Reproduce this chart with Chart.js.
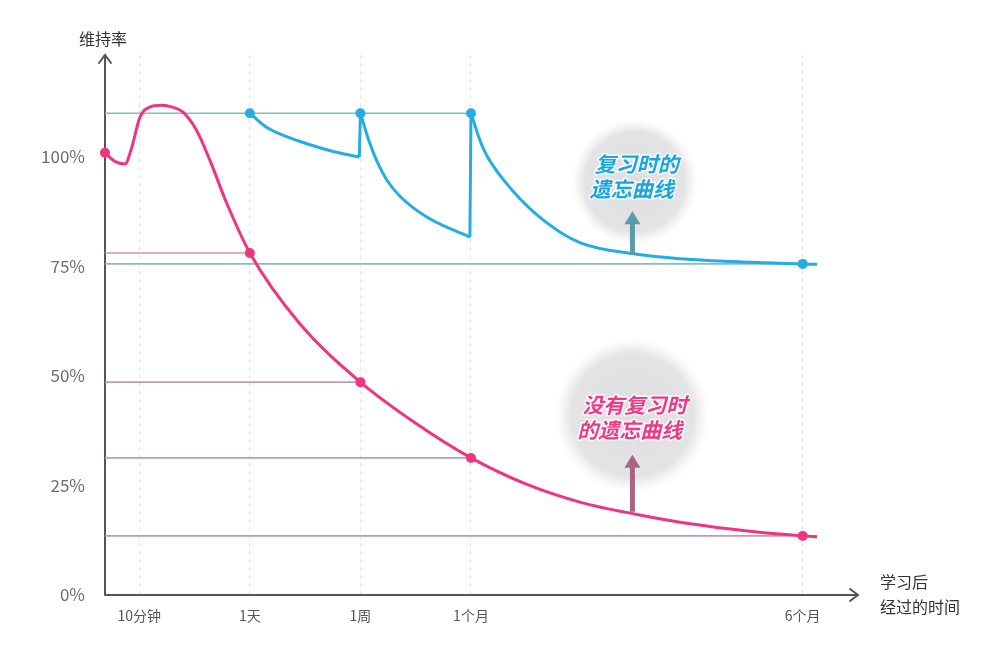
<!DOCTYPE html>
<html>
<head>
<meta charset="utf-8">
<script src="https://cdn.jsdelivr.net/npm/chart.js@4"></script>
<style>
    html, body { margin: 0; background: #fff; }
    #wrap { width: 1000px; height: 646px; }
</style>
</head>
<body>
<div id="wrap"><canvas id="forgetChart" width="1000" height="646"></canvas></div>
<script>
// time axis: 0 = 10分钟, 1 = 1天, 2 = 1周, 3 = 1个月, 6 = 6个月
const xTickValues = [0, 1, 2, 3, 6];
const xTickLabels = ['10分钟', '1天', '1周', '1个月', '6个月'];
const yTickValues = [0, 25, 50, 75, 100];

// 没有复习时的遗忘曲线
const noReviewCurve = [
    [-0.31, 101], [-0.22, 99], [-0.13, 98.4], [-0.07, 102], [0.005, 109],
    [0.095, 111.4], [0.2, 111.8], [0.3, 111.4], [0.394, 110.3], [0.52, 106], [0.638, 99.3],
    [0.79, 89.5], [1, 78.1], [1.45, 62], [2, 48.6], [2.5, 39.2], [3, 31.3],
    [3.5, 25.3], [4, 21.1], [4.5, 18.4], [5, 16.2], [5.5, 14.6], [6, 13.5], [6.13, 13.3]
];
const noReviewDots = [[-0.31, 101], [1, 78.1], [2, 48.6], [3, 31.3], [6, 13.5]];

// 复习时的遗忘曲线 (three decays, each reset to the top after a review)
const reviewDecay1 = [[1, 110], [1.15, 106.8], [1.45, 103.6], [1.72, 101.5], [1.99, 100]];
const reviewDecay2 = [[2, 110], [2.08, 103.5], [2.15, 99], [2.24, 94.7], [2.36, 91], [2.6, 86.3], [2.99, 81.7]];
const reviewDecay3 = [
    [3, 110], [3.08, 103.9], [3.15, 100], [3.37, 92.5], [3.69, 84.9], [3.99, 80.4],
    [4.5, 77.8], [4.89, 76.8], [5.52, 76], [6, 75.6], [6.13, 75.5]
];
const reviewJumps = [[[1.99, 100], [2, 110]], [[2.99, 81.7], [3, 110]]];
const reviewDots = [[1, 110], [2, 110], [3, 110], [6, 75.6]];

// reference lines: [level, ends at x]
const reviewLevels = [[110, 3], [75.6, 6.13]];
const noReviewLevels = [[78.1, 1], [48.6, 2], [31.3, 3], [13.5, 6.13]];

const X_MIN = -0.31;
const X_MAX = 6.5;
const Y_MAX = 123.3;

const PINK = '#ef3580';
const CYAN = '#22ade4';
const FONT = "'Noto Sans CJK SC', 'Noto Sans', sans-serif";

const toPoints = arr => arr.map(p => ({ x: p[0], y: p[1] }));

function curveSet(arr, color) {
    return {
        data: toPoints(arr), borderColor: color, borderWidth: 3, pointRadius: 0,
        cubicInterpolationMode: 'monotone', fill: false, order: 2
    };
}

function straightSet(arr, color, width, order) {
    return {
        data: toPoints(arr), borderColor: color, borderWidth: width, pointRadius: 0,
        tension: 0, fill: false, order: order
    };
}

function dotSet(arr, color) {
    return {
        data: toPoints(arr), showLine: false, pointRadius: 5, pointHoverRadius: 5,
        pointBackgroundColor: color, pointBorderWidth: 0, order: 1, clip: false
    };
}

const datasets = [];
reviewLevels.forEach(l => datasets.push(straightSet([[X_MIN, l[0]], [l[1], l[0]]], '#86bcc6', 1.6, 3)));
noReviewLevels.forEach(l => datasets.push(straightSet([[X_MIN, l[0]], [l[1], l[0]]], '#c79aa8', 1.6, 3)));
datasets.push(curveSet(noReviewCurve, PINK));
[reviewDecay1, reviewDecay2, reviewDecay3].forEach(d => datasets.push(curveSet(d, CYAN)));
reviewJumps.forEach(j => datasets.push(straightSet(j, CYAN, 3, 2)));
datasets.push(dotSet(noReviewDots, PINK));
datasets.push(dotSet(reviewDots, CYAN));

function pos(chart, x, y) {
    return [chart.scales.x.getPixelForValue(x), chart.scales.y.getPixelForValue(y)];
}

function drawBubble(ctx, cx, cy, r) {
    const g = ctx.createRadialGradient(cx, cy, 0, cx, cy, r);
    g.addColorStop(0, 'rgba(222,222,224,1)');
    g.addColorStop(0.8, 'rgba(228,228,230,1)');
    g.addColorStop(1, 'rgba(238,238,240,0)');
    ctx.fillStyle = g;
    ctx.beginPath();
    ctx.arc(cx, cy, r, 0, Math.PI * 2);
    ctx.fill();
}

function drawPointer(ctx, x, yTail, yTip, color) {
    ctx.strokeStyle = color;
    ctx.fillStyle = color;
    ctx.lineWidth = 5;
    ctx.beginPath();
    ctx.moveTo(x, yTail);
    ctx.lineTo(x, yTip + 10);
    ctx.stroke();
    ctx.beginPath();
    ctx.moveTo(x, yTip);
    ctx.lineTo(x - 8, yTip + 13);
    ctx.lineTo(x + 8, yTip + 13);
    ctx.closePath();
    ctx.fill();
}

function drawLabel(ctx, lines, cx, cy, color) {
    ctx.font = 'italic bold 21px ' + FONT;
    ctx.textAlign = 'center';
    ctx.textBaseline = 'middle';
    ctx.lineJoin = 'round';
    lines.forEach((t, i) => {
        const y = cy + (i - (lines.length - 1) / 2) * 25;
        const x = cx - i * 5;
        ctx.strokeStyle = 'rgba(255,255,255,0.85)';
        ctx.lineWidth = 3;
        ctx.strokeText(t, x, y);
        ctx.fillStyle = color;
        ctx.fillText(t, x, y);
    });
}

const decorations = {
    id: 'decorations',
    beforeDatasetsDraw(chart) {
        const ctx = chart.ctx;
        const a = chart.chartArea;
        ctx.save();
        let p = pos(chart, 4.48, 94.3);
        drawBubble(ctx, p[0], p[1], 63);
        p = pos(chart, 4.46, 41);
        drawBubble(ctx, p[0], p[1], 77);

        // axes with open arrow heads
        ctx.strokeStyle = '#555';
        ctx.lineWidth = 2;
        ctx.lineCap = 'round';
        ctx.beginPath();
        ctx.moveTo(a.left, a.bottom);
        ctx.lineTo(a.left, a.top);
        ctx.moveTo(a.left - 6, a.top + 8);
        ctx.lineTo(a.left, a.top);
        ctx.lineTo(a.left + 6, a.top + 8);
        ctx.moveTo(a.left, a.bottom);
        ctx.lineTo(a.right, a.bottom);
        ctx.moveTo(a.right - 8, a.bottom - 6);
        ctx.lineTo(a.right, a.bottom);
        ctx.lineTo(a.right - 8, a.bottom + 6);
        ctx.stroke();
        ctx.restore();
    },
    afterDatasetsDraw(chart) {
        const ctx = chart.ctx;
        const a = chart.chartArea;
        ctx.save();
        let tail = pos(chart, 4.46, 77.6), tip = pos(chart, 4.46, 87.6);
        drawPointer(ctx, tail[0], tail[1], tip[1], '#5b9ca8');
        tail = pos(chart, 4.46, 19); tip = pos(chart, 4.46, 32);
        drawPointer(ctx, tail[0], tail[1], tip[1], '#aa6381');

        let p = pos(chart, 4.5, 95.5);
        drawLabel(ctx, ['复习时的', '遗忘曲线'], p[0], p[1], '#16a6e0');
        p = pos(chart, 4.48, 40.5);
        drawLabel(ctx, ['没有复习时', '的遗忘曲线'], p[0], p[1], '#ec3a86');

        ctx.fillStyle = '#333';
        ctx.font = '16px ' + FONT;
        ctx.textBaseline = 'middle';
        ctx.textAlign = 'left';
        ctx.fillText('维持率', a.left - 26, a.top - 16);
        ctx.fillText('学习后', a.right + 22, a.bottom - 13);
        ctx.fillText('经过的时间', a.right + 22, a.bottom + 12);
        ctx.restore();
    }
};

new Chart(document.getElementById('forgetChart'), {
    type: 'line',
    data: { datasets: datasets },
    options: {
        responsive: false,
        animation: false,
        layout: { padding: { left: 0, right: 142, top: 55, bottom: 0 } },
        plugins: { legend: { display: false }, tooltip: { enabled: false } },
        scales: {
            x: {
                type: 'linear',
                min: X_MIN,
                max: X_MAX,
                afterBuildTicks: scale => { scale.ticks = xTickValues.map(v => ({ value: v })); },
                afterFit: scale => { scale.height = 51; },
                ticks: {
                    padding: 12,
                    color: '#555',
                    font: { family: FONT, size: 14 },
                    callback: v => xTickLabels[xTickValues.indexOf(v)]
                },
                grid: { color: '#e4e4e4', lineWidth: 1, drawTicks: false },
                border: { display: false, dash: [4, 4] }
            },
            y: {
                min: 0,
                max: Y_MAX,
                afterBuildTicks: scale => { scale.ticks = yTickValues.map(v => ({ value: v })); },
                afterFit: scale => { scale.width = 105; },
                ticks: {
                    padding: 12,
                    color: '#6e6e6e',
                    font: { family: FONT, size: 17 },
                    callback: v => v + '%'
                },
                grid: { display: false },
                border: { display: false }
            }
        }
    },
    plugins: [decorations]
});
</script>
</body>
</html>
